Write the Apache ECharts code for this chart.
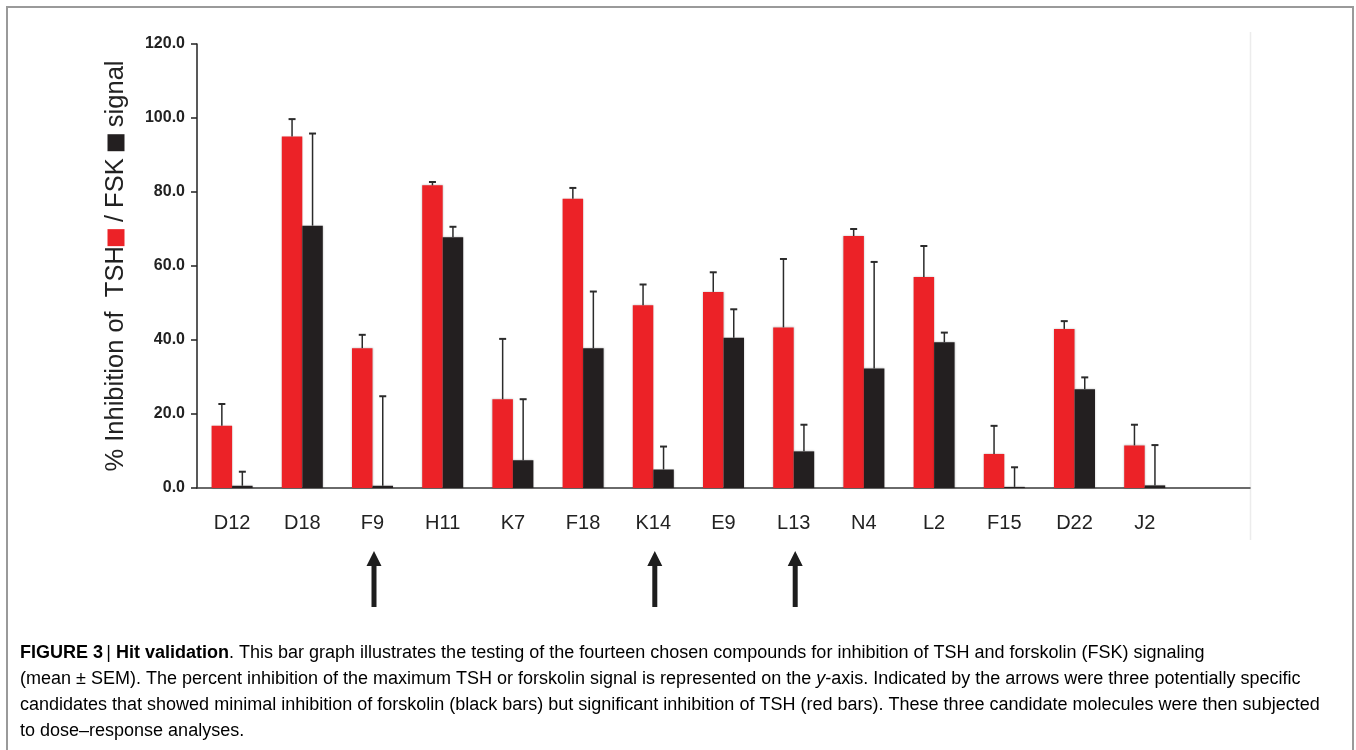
<!DOCTYPE html>
<html><head><meta charset="utf-8">
<script src="https://cdn.jsdelivr.net/npm/echarts@6/dist/echarts.min.js"></script>
<style>html,body{margin:0;padding:0;background:#fff}#c{width:1356px;height:750px}</style>
</head><body><div id="c"></div>
<script>
const categories = ['D12','D18','F9','H11','K7','F18','K14','E9','L13','N4','L2','F15','D22','J2'];
const tshValues = [16.8, 95.0, 37.8, 81.8, 24.0, 78.2, 49.4, 53.0, 43.4, 68.1, 57.0, 9.2, 43.0, 11.5];
const tshErr    = [5.9, 4.7, 3.6, 0.9, 16.3, 2.9, 5.6, 5.3, 18.5, 1.9, 8.4, 7.6, 2.1, 5.6];
const fskValues = [0.6, 70.9, 0.6, 67.8, 7.5, 37.8, 5.0, 40.6, 9.9, 32.3, 39.4, 0.3, 26.7, 0.7];
const fskErr    = [3.8, 24.9, 24.2, 2.8, 16.5, 15.3, 6.2, 7.7, 7.2, 28.8, 2.6, 5.3, 3.2, 10.9];
const arrowCats = ['F9','K14','L13'];
const yTicks = [0, 20, 40, 60, 80, 100, 120];

const RED = '#ec2227', BLACK = '#231f20';
const BAR_FRAC = 0.292;
const axisCats = categories.concat(['']);

function errSeries(vals, errs, side) {
  return {
    type: 'custom', z: 5, clip: false,
    data: vals.map((v, i) => [i, v, errs[i]]),
    encode: { x: 0, y: 1 },
    renderItem: function (params, api) {
      const i = api.value(0), v = api.value(1), e = api.value(2);
      const band = api.size([1, 0])[0];
      const base = api.coord([i, v]);
      const top = api.coord([i, v + e]);
      const x = base[0] + side * band * BAR_FRAC / 2;
      return { type: 'group', children: [
        { type: 'line', shape: { x1: x, y1: base[1], x2: x, y2: top[1] }, style: { stroke: '#2b2b2b', lineWidth: 1.5 } },
        { type: 'line', shape: { x1: x - 3.5, y1: top[1], x2: x + 3.5, y2: top[1] }, style: { stroke: '#2b2b2b', lineWidth: 2 } }
      ]};
    }
  };
}

const chart = echarts.init(document.getElementById('c'), null, { renderer: 'canvas' });
const sans = '"Liberation Sans", Arial, sans-serif';
const option = {
  animation: false,
  backgroundColor: '#fff',
  grid: { left: 197, right: 106, top: 44, bottom: 262, containLabel: false },
  xAxis: {
    type: 'category', data: axisCats,
    axisLine: { lineStyle: { color: '#3a3a3a', width: 1.5 } },
    axisTick: { show: false },
    axisLabel: { color: '#222', fontFamily: sans, fontSize: 20, margin: 25, interval: 0 }
  },
  yAxis: {
    type: 'value', min: 0, max: 120, interval: 20,
    axisLine: { show: true, lineStyle: { color: '#222', width: 1.5 } },
    axisTick: { show: true, length: 6, lineStyle: { color: '#222', width: 1.5 } },
    splitLine: { show: false },
    axisLabel: { color: '#222', fontFamily: sans, fontWeight: 'bold', fontSize: 16, margin: 12,
      formatter: v => yTicks.indexOf(v) >= 0 ? v.toFixed(1) : '' },
    name: '{t|% Inhibition of  TSH}{r|}{t| / FSK }{b|}{t| signal}',
    nameLocation: 'middle', nameGap: 68, nameRotate: 90,
    nameTextStyle: {
      rich: {
        t: { fontFamily: sans, fontSize: 25.5, color: '#222' },
        r: { backgroundColor: RED, width: 17, height: 17 },
        b: { backgroundColor: BLACK, width: 17, height: 17 }
      }
    }
  },
  series: [
    { type: 'bar', name: 'TSH', data: tshValues, barWidth: (BAR_FRAC * 100) + '%', barGap: '0%',
      itemStyle: { color: RED, shadowColor: 'rgba(0,0,0,0.25)', shadowBlur: 2 } },
    { type: 'bar', name: 'FSK', data: fskValues, barWidth: (BAR_FRAC * 100) + '%', barGap: '0%',
      itemStyle: { color: BLACK, shadowColor: 'rgba(0,0,0,0.25)', shadowBlur: 2 } },
    errSeries(tshValues, tshErr, -1),
    errSeries(fskValues, fskErr, 1),
    {
      type: 'custom', clip: false, z: 6,
      data: arrowCats.map(c => [categories.indexOf(c), 0]),
      encode: { x: 0, y: 1 },
      renderItem: function (params, api) {
        const p = api.coord([api.value(0), 0]);
        const x = p[0] + 1.5, y0 = p[1];
        return { type: 'polygon', shape: { points: [
          [x, y0 + 63], [x + 7.5, y0 + 78], [x + 2.5, y0 + 78], [x + 2.5, y0 + 119],
          [x - 2.5, y0 + 119], [x - 2.5, y0 + 78], [x - 7.5, y0 + 78]
        ] }, style: { fill: '#1e1e1e' } };
      }
    }
  ],
  graphic: [
    { type: 'polyline', shape: { points: [[7, 760], [7, 7], [1353, 7], [1353, 760]] },
      style: { stroke: '#9a9a9a', lineWidth: 2, fill: null }, silent: true },
    { type: 'line', shape: { x1: 1250.5, y1: 32, x2: 1250.5, y2: 540 },
      style: { stroke: '#ececec', lineWidth: 1.5 }, silent: true },
    { type: 'text', left: 20, top: 644, silent: true,
      style: {
        text: '{bb|FIGURE 3} {bar|| }{bb|Hit validation}{n|. This bar graph illustrates the testing of the fourteen chosen compounds for inhibition of TSH and forskolin (FSK) signaling}\n' +
              '{n|(mean ± SEM). The percent inhibition of the maximum TSH or forskolin signal is represented on the }{i|y}{n|-axis. Indicated by the arrows were three potentially specific}\n' +
              '{n|candidates that showed minimal inhibition of forskolin (black bars) but significant inhibition of TSH (red bars). These three candidate molecules were then subjected}\n' +
              '{n|to dose–response analyses.}',
        rich: {
          n: { fontFamily: sans, fontSize: 18, color: '#333', lineHeight: 26 },
          i: { fontFamily: sans, fontSize: 18, color: '#333', fontStyle: 'italic', lineHeight: 26 },
          bb: { fontFamily: sans, fontSize: 18, color: '#222', fontWeight: 'bold', lineHeight: 26 },
          bar: { fontFamily: sans, fontSize: 18, color: '#555', lineHeight: 26 }
        }
      }
    }
  ]
};
chart.setOption(option);
</script></body></html>
